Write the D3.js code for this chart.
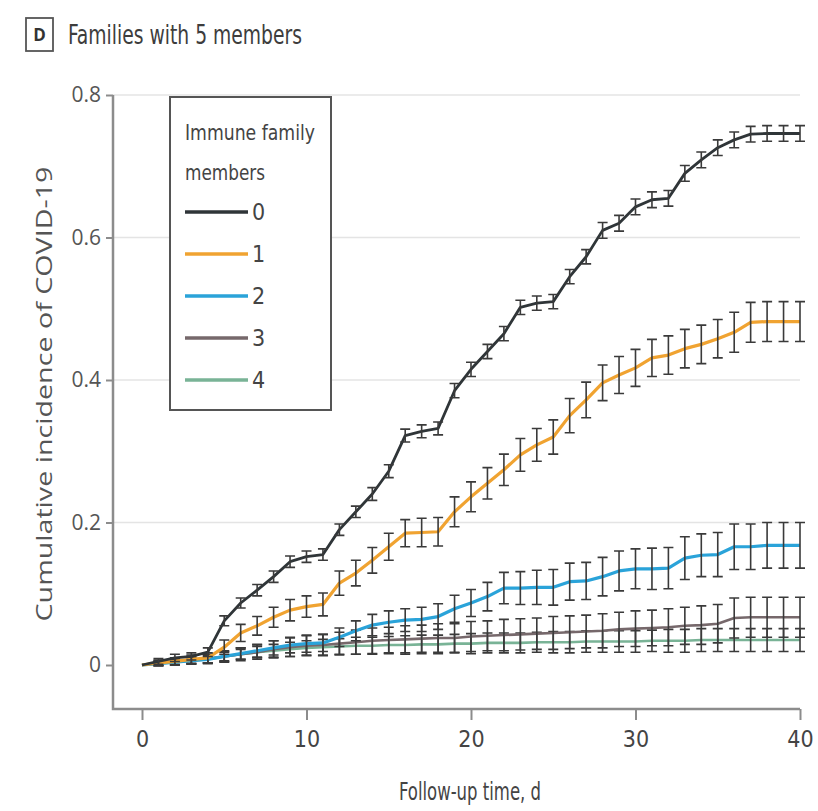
<!DOCTYPE html>
<html>
<head>
<meta charset="utf-8">
<script src="https://cdn.jsdelivr.net/npm/d3@7"></script>
<style>
  html, body { margin: 0; padding: 0; background: #fff; }
  svg { display: block; }
  .cond { font-family: "Liberation Sans Narrow", "DejaVu Sans Condensed", "Arial Narrow", sans-serif; font-stretch: condensed; }
  .reg { font-family: "Open Sans", "Noto Sans", sans-serif; }
</style>
</head>
<body>
<svg id="chart" width="818" height="811"></svg>
<script>
// ---------------- DATA ----------------
const days = d3.range(0, 41);            // follow-up day 0..40
const seriesNames = ["0", "1", "2", "3", "4"];
const seriesColors = ["#2f3538", "#f0a331", "#2aa3d9", "#76686b", "#79b396"];

const s0 = [0, 0.005, 0.01, 0.012, 0.018, 0.062, 0.087, 0.105, 0.124, 0.145,
  0.152, 0.155, 0.19, 0.215, 0.24, 0.272, 0.322, 0.328, 0.332, 0.385,
  0.415, 0.44, 0.465, 0.502, 0.508, 0.51, 0.545, 0.573, 0.61, 0.62,
  0.643, 0.653, 0.655, 0.69, 0.709, 0.726, 0.737, 0.745, 0.746, 0.746, 0.746];
const e0 = [0, 0.004, 0.005, 0.005, 0.006, 0.007, 0.007, 0.008, 0.008, 0.008,
  0.008, 0.008, 0.008, 0.008, 0.009, 0.009, 0.009, 0.009, 0.009, 0.01,
  0.01, 0.01, 0.01, 0.01, 0.01, 0.01, 0.01, 0.01, 0.011, 0.011,
  0.011, 0.011, 0.011, 0.011, 0.011, 0.011, 0.011, 0.011, 0.011, 0.011, 0.011];

const s1 = [0, 0.003, 0.005, 0.008, 0.01, 0.025, 0.045, 0.055, 0.067, 0.077,
  0.082, 0.085, 0.115, 0.129, 0.147, 0.166, 0.185, 0.186, 0.187, 0.215,
  0.236, 0.255, 0.274, 0.295, 0.309, 0.32, 0.35, 0.372, 0.396, 0.407,
  0.417, 0.431, 0.435, 0.444, 0.45, 0.458, 0.467, 0.481, 0.482, 0.482, 0.482];
const e1 = [0, 0.004, 0.005, 0.006, 0.007, 0.01, 0.012, 0.013, 0.014, 0.015,
  0.015, 0.016, 0.017, 0.018, 0.018, 0.019, 0.019, 0.02, 0.02, 0.021,
  0.021, 0.022, 0.022, 0.023, 0.023, 0.024, 0.024, 0.025, 0.025, 0.026,
  0.026, 0.026, 0.027, 0.027, 0.027, 0.027, 0.028, 0.028, 0.028, 0.028, 0.028];

const s2 = [0, 0.002, 0.004, 0.006, 0.008, 0.012, 0.016, 0.02, 0.024, 0.028,
  0.03, 0.031, 0.039, 0.048, 0.056, 0.06, 0.063, 0.064, 0.068, 0.079,
  0.087, 0.096, 0.108, 0.108, 0.109, 0.109, 0.117, 0.118, 0.124, 0.132,
  0.135, 0.135, 0.136, 0.15, 0.154, 0.155, 0.166, 0.166, 0.168, 0.168, 0.168];
const e2 = [0, 0.003, 0.004, 0.005, 0.006, 0.007, 0.008, 0.009, 0.01, 0.011,
  0.012, 0.012, 0.013, 0.014, 0.015, 0.016, 0.016, 0.017, 0.018, 0.019,
  0.019, 0.02, 0.022, 0.023, 0.024, 0.025, 0.026, 0.026, 0.027, 0.028,
  0.028, 0.029, 0.029, 0.03, 0.03, 0.031, 0.032, 0.032, 0.032, 0.032, 0.032];

const s3 = [0, 0.003, 0.005, 0.007, 0.009, 0.012, 0.015, 0.018, 0.022, 0.025,
  0.027, 0.028, 0.03, 0.032, 0.034, 0.035, 0.036, 0.037, 0.038, 0.038,
  0.04, 0.041, 0.042, 0.043, 0.044, 0.045, 0.046, 0.047, 0.048, 0.05,
  0.051, 0.052, 0.053, 0.055, 0.056, 0.058, 0.066, 0.067, 0.067, 0.067, 0.067];
const e3 = [0, 0.003, 0.004, 0.005, 0.006, 0.008, 0.009, 0.01, 0.012, 0.013,
  0.014, 0.015, 0.016, 0.017, 0.018, 0.018, 0.019, 0.019, 0.02, 0.02,
  0.021, 0.021, 0.022, 0.022, 0.022, 0.023, 0.023, 0.023, 0.024, 0.024,
  0.025, 0.025, 0.026, 0.026, 0.027, 0.027, 0.028, 0.028, 0.028, 0.028, 0.028];

const s4 = [0, 0.002, 0.004, 0.006, 0.008, 0.012, 0.015, 0.018, 0.02, 0.022,
  0.024, 0.025, 0.026, 0.027, 0.027, 0.028, 0.028, 0.029, 0.029, 0.03,
  0.03, 0.031, 0.031, 0.031, 0.032, 0.032, 0.032, 0.033, 0.033, 0.033,
  0.033, 0.034, 0.034, 0.034, 0.035, 0.035, 0.035, 0.035, 0.035, 0.035, 0.035];
const e4 = [0, 0.003, 0.004, 0.004, 0.005, 0.006, 0.007, 0.008, 0.009, 0.01,
  0.01, 0.011, 0.011, 0.012, 0.012, 0.012, 0.013, 0.013, 0.013, 0.013,
  0.014, 0.014, 0.014, 0.014, 0.014, 0.015, 0.015, 0.015, 0.015, 0.015,
  0.015, 0.015, 0.016, 0.016, 0.016, 0.016, 0.016, 0.016, 0.016, 0.016, 0.016];

const xTicks = [0, 10, 20, 30, 40];
const yTicks = [0, 0.2, 0.4, 0.6, 0.8];
const gridValues = [0.2, 0.4, 0.6, 0.8];

const panelLetter = "D";
const titleText = "Families with 5 members";
const xLabel = "Follow-up time, d";
const yLabel = "Cumulative incidence of COVID-19";
const legendTitle = ["Immune family", "members"];

// ---------------- LAYOUT ----------------
const svg = d3.select("#chart");
const x = d3.scaleLinear().domain([0, 40]).range([142, 800]);
const y = d3.scaleLinear().domain([0, 0.8]).range([665, 95]);
const axisX = 113, axisY = 709;
const axisColor = "#8c8c8c", textColor = "#444";

// gridlines
svg.append("g").selectAll("line").data(gridValues).join("line")
  .attr("x1", axisX).attr("x2", 800)
  .attr("y1", d => y(d)).attr("y2", d => y(d))
  .attr("stroke", "#e4e4e4").attr("stroke-width", 1.5);

// axes
const gy = svg.append("g").attr("transform", `translate(${axisX},0)`)
  .call(d3.axisLeft(y).tickValues(yTicks).tickSize(7).tickSizeOuter(0)
    .tickFormat(d => d === 0 ? "0" : d3.format(".1f")(d)));
gy.select(".domain").remove();
gy.selectAll(".tick line").attr("stroke", axisColor).attr("stroke-width", 2);
gy.selectAll(".tick text").attr("class", "reg").attr("fill", "#555")
  .attr("font-size", 21).attr("x", -12);

const gx = svg.append("g").attr("transform", `translate(0,${axisY})`)
  .call(d3.axisBottom(x).tickValues(xTicks).tickSize(11).tickSizeOuter(0));
gx.select(".domain").remove();
gx.selectAll(".tick line").attr("stroke", axisColor).attr("stroke-width", 2);
gx.selectAll(".tick text").attr("class", "cond").attr("fill", textColor)
  .attr("font-size", 23).attr("y", 22);

svg.append("path")
  .attr("d", `M${axisX},${y(0.8)}V${axisY}H800`)
  .attr("fill", "none").attr("stroke", axisColor).attr("stroke-width", 2.5);

// axis titles
svg.append("text").attr("class", "reg")
  .attr("transform", `translate(52,${(y(0.8) + y(0)) / 2 + 14}) rotate(-90)`)
  .attr("text-anchor", "middle").attr("font-size", 21).attr("fill", "#555")
  .attr("textLength", 455).attr("lengthAdjust", "spacingAndGlyphs")
  .text(yLabel);
svg.append("text").attr("class", "cond")
  .attr("x", 470).attr("y", 800).attr("text-anchor", "middle")
  .attr("font-size", 25).attr("fill", textColor)
  .attr("textLength", 142).attr("lengthAdjust", "spacingAndGlyphs").text(xLabel);

// title
svg.append("rect").attr("x", 26).attr("y", 18).attr("width", 27).attr("height", 33)
  .attr("fill", "none").attr("stroke", "#555").attr("stroke-width", 1.8);
svg.append("text").attr("class", "reg").attr("x", 39.5).attr("y", 41)
  .attr("text-anchor", "middle").attr("font-size", 17).attr("font-weight", "bold")
  .attr("fill", "#333").text(panelLetter);
svg.append("text").attr("class", "cond").attr("x", 68).attr("y", 44)
  .attr("font-size", 26).attr("fill", "#3d3d3d")
  .attr("textLength", 234).attr("lengthAdjust", "spacingAndGlyphs").text(titleText);

// ---------------- SERIES ----------------
const allSeries = [
  { name: seriesNames[0], color: seriesColors[0], vals: s0, err: e0, w: 2.8 },
  { name: seriesNames[1], color: seriesColors[1], vals: s1, err: e1, w: 3.2 },
  { name: seriesNames[2], color: seriesColors[2], vals: s2, err: e2, w: 3.2 },
  { name: seriesNames[3], color: seriesColors[3], vals: s3, err: e3, w: 2.6 },
  { name: seriesNames[4], color: seriesColors[4], vals: s4, err: e4, w: 2.6 }
];

const line = d3.line().x((d, i) => x(days[i])).y(d => y(d));
const drawOrder = [4, 3, 2, 1, 0];
const capHalf = 5;

drawOrder.forEach(k => {
  const s = allSeries[k];
  const g = svg.append("g");
  g.append("path").datum(s.vals).attr("d", line)
    .attr("fill", "none").attr("stroke", s.color).attr("stroke-width", s.w)
    .attr("stroke-linejoin", "round");
  const pts = days.map((d, i) => ({ d, v: s.vals[i], e: s.err[i] })).filter(p => p.d > 0);
  const eb = g.append("g").attr("stroke", "#3a3a3a").attr("stroke-width", 1.6).attr("fill", "none");
  eb.selectAll("path").data(pts).join("path")
    .attr("d", p => {
      const cx = x(p.d), t = y(p.v + p.e), b = y(p.v - p.e);
      return `M${cx},${t}V${b}M${cx - capHalf},${t}H${cx + capHalf}M${cx - capHalf},${b}H${cx + capHalf}`;
    });
});

// ---------------- LEGEND ----------------
const lg = svg.append("g");
lg.append("rect").attr("x", 170).attr("y", 97).attr("width", 161).attr("height", 313)
  .attr("fill", "#fff").attr("stroke", "#555").attr("stroke-width", 2);
lg.selectAll("text.lt").data(legendTitle).join("text").attr("class", "cond lt")
  .attr("x", 185).attr("y", (d, i) => 140 + i * 40)
  .attr("font-size", 22).attr("fill", "#444")
  .attr("textLength", (d, i) => i === 0 ? 130 : 80).attr("lengthAdjust", "spacingAndGlyphs")
  .text(d => d);
const entryY = d3.scalePoint().domain(seriesNames).range([212, 380]);
const le = lg.selectAll("g.entry").data(allSeries).join("g").attr("class", "entry");
le.append("line").attr("x1", 185).attr("x2", 248)
  .attr("y1", d => entryY(d.name)).attr("y2", d => entryY(d.name))
  .attr("stroke", d => d.color).attr("stroke-width", 3.5);
le.append("text").attr("class", "cond").attr("x", 252).attr("y", d => entryY(d.name) + 8)
  .attr("font-size", 23).attr("fill", "#444").text(d => d.name);
</script>
</body>
</html>
